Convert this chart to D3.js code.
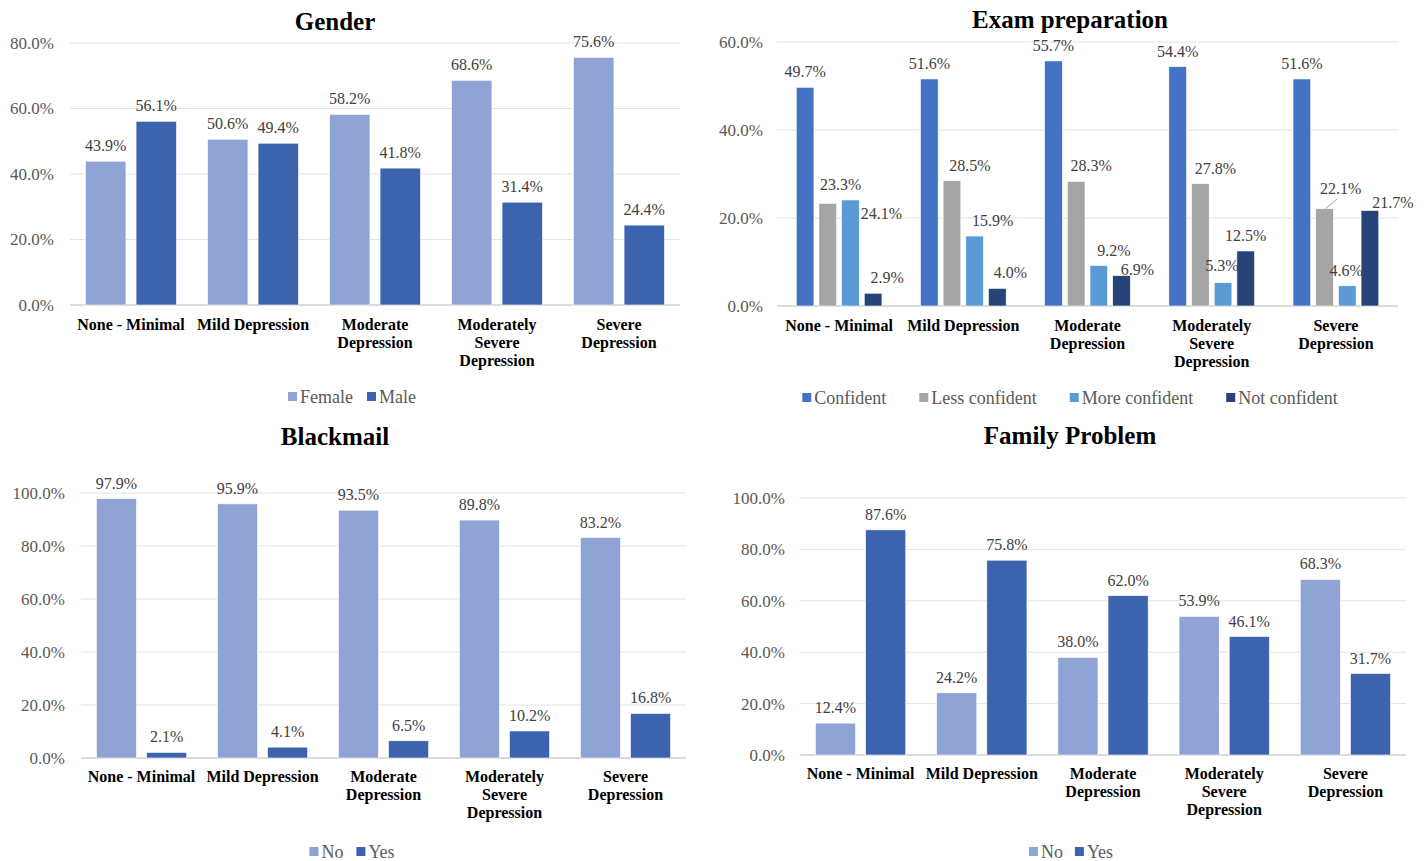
<!DOCTYPE html>
<html>
<head>
<meta charset="utf-8">
<script src="https://cdn.jsdelivr.net/npm/d3@7"></script>
<style>
  body { margin: 0; background: #fff; }
  svg { display: block; font-family: "Liberation Serif", "Times New Roman", serif; }
</style>
</head>
<body>
<div id="chart"></div>
<script>
// data
var categories = ["None - Minimal", "Mild Depression", "Moderate Depression", "Moderately Severe Depression", "Severe Depression"];
var categoryLines = [["None - Minimal"], ["Mild Depression"], ["Moderate", "Depression"], ["Moderately", "Severe", "Depression"], ["Severe", "Depression"]];

var genderSeries = ["Female", "Male"];
var genderFemale = [43.9, 50.6, 58.2, 68.6, 75.6];
var genderMale = [56.1, 49.4, 41.8, 31.4, 24.4];

var examSeries = ["Confident", "Less confident", "More confident", "Not confident"];
var examConfident = [49.7, 51.6, 55.7, 54.4, 51.6];
var examLess = [23.3, 28.5, 28.3, 27.8, 22.1];
var examMore = [24.1, 15.9, 9.2, 5.3, 4.6];
var examNot = [2.9, 4.0, 6.9, 12.5, 21.7];

var yesNoSeries = ["No", "Yes"];
var blackmailNo = [97.9, 95.9, 93.5, 89.8, 83.2];
var blackmailYes = [2.1, 4.1, 6.5, 10.2, 16.8];
var familyNo = [12.4, 24.2, 38.0, 53.9, 68.3];
var familyYes = [87.6, 75.8, 62.0, 46.1, 31.7];

var ticks80 = [0, 20, 40, 60, 80];
var ticks60 = [0, 20, 40, 60];
var ticks100 = [0, 20, 40, 60, 80, 100];

var lightBlue = "#8FA4D4", darkBlue = "#3C63AD";

var svg = d3.select("#chart").append("svg")
    .attr("width", 1425)
    .attr("height", 861);

function drawPanel(cfg) {
    var g = svg.append("g");
    var x0 = d3.scaleBand().domain(categories).range([cfg.left, cfg.right]);
    var groupW = x0.bandwidth() * cfg.groupFrac;
    var x1 = d3.scaleBand().domain(cfg.series).range([0, groupW]).paddingInner(cfg.barPad);
    var y = d3.scaleLinear().domain([0, d3.max(cfg.ticks)]).range([cfg.bottom, cfg.top]);

    // title
    g.append("text")
        .attr("x", cfg.titleX).attr("y", cfg.titleY)
        .attr("text-anchor", "middle")
        .style("font-size", "25px").style("font-weight", "bold")
        .attr("fill", "#000")
        .text(cfg.title);

    // gridlines
    g.selectAll(".grid").data(cfg.ticks).enter().append("line")
        .attr("x1", cfg.left).attr("x2", cfg.right)
        .attr("y1", function (d) { return y(d); })
        .attr("y2", function (d) { return y(d); })
        .attr("stroke", function (d) { return d === 0 ? "#CFCFCF" : "#E3E3E3"; })
        .attr("stroke-width", function (d) { return d === 0 ? 1.3 : 1; });

    // y tick labels
    g.selectAll(".ytick").data(cfg.ticks).enter().append("text")
        .attr("x", cfg.yLabelX)
        .attr("y", function (d) { return y(d); })
        .attr("dy", "0.35em")
        .attr("text-anchor", "end")
        .attr("fill", "#595959")
        .style("font-size", "17px")
        .text(function (d) { return d.toFixed(1) + "%"; });

    // bars
    var rows = [];
    cfg.values.forEach(function (vals, si) {
        vals.forEach(function (v, ci) {
            rows.push({ s: cfg.series[si], si: si, c: categories[ci], ci: ci, v: v });
        });
    });
    function barX(d) {
        return x0(d.c) + (x0.bandwidth() - groupW) / 2 + x1(d.s);
    }
    g.selectAll(".bar").data(rows).enter().append("rect")
        .attr("x", barX)
        .attr("y", function (d) { return y(d.v); })
        .attr("width", x1.bandwidth())
        .attr("height", function (d) { return cfg.bottom - y(d.v); })
        .attr("fill", function (d) { return cfg.colors[d.si]; })
        .attr("stroke", "#fff").attr("stroke-width", 0.6);

    // data labels
    g.selectAll(".lbl").data(rows).enter().append("text")
        .attr("x", function (d) {
            var n = cfg.nudge ? cfg.nudge[d.si][d.ci] : [0, 0];
            return barX(d) + x1.bandwidth() / 2 + n[0];
        })
        .attr("y", function (d) {
            var n = cfg.nudge ? cfg.nudge[d.si][d.ci] : [0, 0];
            return y(d.v) - 10 + n[1];
        })
        .attr("text-anchor", "middle")
        .attr("fill", "#404040")
        .style("font-size", "16px")
        .text(function (d) { return d.v.toFixed(1) + "%"; });

    // leader lines
    if (cfg.leaders) {
        cfg.leaders.forEach(function (l) {
            var d = rows.filter(function (r) { return r.si === l[0] && r.ci === l[1]; })[0];
            var bx = barX(d);
            g.append("line")
                .attr("x1", bx + x1.bandwidth() * 0.55).attr("y1", y(d.v))
                .attr("x2", bx + x1.bandwidth() + 4).attr("y2", y(d.v) - 10)
                .attr("stroke", "#A6A6A6").attr("stroke-width", 1);
        });
    }

    // category labels
    categories.forEach(function (c, ci) {
        var t = g.append("text")
            .attr("x", x0(c) + x0.bandwidth() / 2)
            .attr("y", cfg.xLabelY)
            .attr("text-anchor", "middle")
            .style("font-size", "16px").style("font-weight", "bold")
            .attr("fill", "#000");
        categoryLines[ci].forEach(function (line, li) {
            t.append("tspan")
                .attr("x", x0(c) + x0.bandwidth() / 2)
                .attr("dy", li === 0 ? 0 : 18)
                .text(line);
        });
    });

    // legend
    var lg = g.append("g");
    var cursor = 0;
    cfg.series.forEach(function (s, si) {
        var item = lg.append("g").attr("transform", "translate(" + cursor + ",0)");
        item.append("rect")
            .attr("x", 0).attr("y", -5)
            .attr("width", 9).attr("height", 9)
            .attr("fill", cfg.colors[si]);
        var tx = item.append("text")
            .attr("x", 12).attr("y", 0).attr("dy", "0.35em")
            .attr("fill", "#595959")
            .style("font-size", "18px")
            .text(s);
        cursor += 12 + tx.node().getComputedTextLength() + cfg.legendGap;
    });
    var total = cursor - cfg.legendGap;
    lg.attr("transform", "translate(" + (cfg.legendX - total / 2) + "," + cfg.legendY + ")");
}

drawPanel({
    title: "Gender", titleX: 335, titleY: 30,
    left: 70, right: 680, top: 43, bottom: 305, yLabelX: 54,
    ticks: ticks80, series: genderSeries, values: [genderFemale, genderMale],
    colors: [lightBlue, darkBlue], groupFrac: 0.745, barPad: 0.2,
    xLabelY: 330, legendX: 352, legendY: 397, legendGap: 14
});

drawPanel({
    title: "Exam preparation", titleX: 1070, titleY: 28,
    left: 777, right: 1398, top: 42, bottom: 306, yLabelX: 763,
    ticks: ticks60, series: examSeries, values: [examConfident, examLess, examMore, examNot],
    colors: ["#4472C4", "#A5A5A5", "#5B9BD5", "#264478"], groupFrac: 0.69, barPad: 0.22,
    // label nudges [dx, dy] per series / category
    nudge: [
        [[0, 0], [0, 0], [0, 0], [0, 0], [0, 0]],
        [[13, -3], [18, 0], [15, 0], [15, 0], [16, -5]],
        [[31, 29], [18, 0], [15, 0], [-1, -2], [-1, 0]],
        [[14, 0], [13, 0], [16, 9], [0, 0], [23, 7]]
    ],
    leaders: [[1, 4]],
    xLabelY: 331, legendX: 1070, legendY: 398, legendGap: 33
});

drawPanel({
    title: "Blackmail", titleX: 335, titleY: 445,
    left: 81, right: 686, top: 493, bottom: 758, yLabelX: 65,
    ticks: ticks100, series: yesNoSeries, values: [blackmailNo, blackmailYes],
    colors: [lightBlue, darkBlue], groupFrac: 0.745, barPad: 0.2,
    xLabelY: 782, legendX: 352, legendY: 852, legendGap: 13
});

drawPanel({
    title: "Family Problem", titleX: 1070, titleY: 444,
    left: 800, right: 1406, top: 498, bottom: 755, yLabelX: 785,
    ticks: ticks100, series: yesNoSeries, values: [familyNo, familyYes],
    colors: [lightBlue, darkBlue], groupFrac: 0.745, barPad: 0.2,
    xLabelY: 779, legendX: 1071, legendY: 852, legendGap: 12
});
</script>
</body>
</html>
